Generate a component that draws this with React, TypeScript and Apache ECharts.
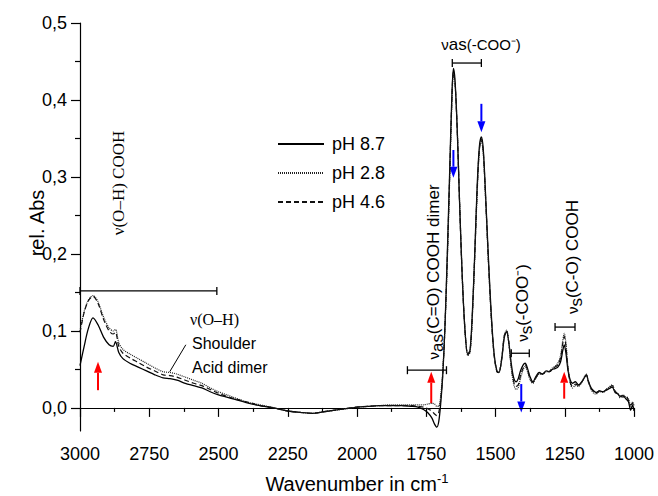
import React, { useEffect, useRef } from "react";
import * as echarts from "echarts";

const wavenumbers = [3000, 2985, 2970, 2953, 2935, 2915, 2895, 2880, 2872, 2860, 2845, 2820, 2790, 2760, 2730, 2700, 2675, 2650, 2620, 2590, 2560, 2530, 2500, 2470, 2440, 2400, 2350, 2300, 2250, 2200, 2160, 2120, 2080, 2040, 2000, 1960, 1920, 1880, 1840, 1800, 1780, 1760, 1745, 1730, 1720, 1712, 1705, 1698, 1690, 1682, 1674, 1666, 1658, 1652, 1646, 1638, 1630, 1620, 1610, 1600, 1592, 1584, 1575, 1566, 1558, 1551, 1544, 1535, 1525, 1515, 1505, 1495, 1488, 1478, 1468, 1460, 1452, 1444, 1435, 1426, 1418, 1410, 1400, 1393, 1385, 1375, 1365, 1355, 1342, 1330, 1317, 1305, 1295, 1285, 1275, 1265, 1257, 1252, 1246, 1238, 1230, 1222, 1212, 1200, 1188, 1178, 1172, 1165, 1155, 1145, 1137, 1125, 1112, 1100, 1090, 1079, 1068, 1058, 1050, 1040, 1030, 1020, 1012, 1005, 1000];

const ph87 = [0.055, 0.080, 0.103, 0.117, 0.108, 0.092, 0.082, 0.080, 0.086, 0.072, 0.064, 0.058, 0.053, 0.048, 0.043, 0.039, 0.038, 0.036, 0.032, 0.029, 0.026, 0.021, 0.017, 0.014, 0.011, 0.007, 0.003, 0.000, -0.004, -0.006, -0.007, -0.005, -0.003, -0.001, 0.001, 0.002, 0.003, 0.003, 0.003, 0.002, 0.001, -0.002, -0.006, -0.013, -0.021, -0.025, -0.018, 0.005, 0.045, 0.11, 0.2, 0.30, 0.40, 0.441, 0.425, 0.36, 0.27, 0.17, 0.10, 0.07, 0.075, 0.12, 0.2, 0.29, 0.34, 0.352, 0.335, 0.27, 0.19, 0.12, 0.07, 0.048, 0.046, 0.062, 0.092, 0.099, 0.085, 0.06, 0.04, 0.034, 0.038, 0.048, 0.056, 0.058, 0.052, 0.04, 0.034, 0.04, 0.046, 0.044, 0.048, 0.047, 0.050, 0.051, 0.053, 0.060, 0.075, 0.082, 0.072, 0.048, 0.036, 0.032, 0.034, 0.030, 0.034, 0.040, 0.043, 0.035, 0.026, 0.022, 0.020, 0.022, 0.021, 0.023, 0.025, 0.027, 0.020, 0.018, 0.015, 0.016, 0.012, 0.008, -0.003, 0.004, -0.004];

const ph28 = [0.100, 0.125, 0.140, 0.146, 0.138, 0.118, 0.104, 0.100, 0.102, 0.085, 0.076, 0.070, 0.064, 0.058, 0.052, 0.047, 0.046, 0.044, 0.040, 0.036, 0.032, 0.026, 0.021, 0.017, 0.013, 0.008, 0.004, 0.000, -0.004, -0.006, -0.007, -0.005, -0.003, -0.001, 0.001, 0.002, 0.003, 0.004, 0.004, 0.004, 0.004, 0.004, 0.005, 0.006, 0.005, 0.002, 0.002, 0.015, 0.05, 0.11, 0.19, 0.29, 0.39, 0.432, 0.42, 0.36, 0.27, 0.17, 0.10, 0.068, 0.072, 0.115, 0.195, 0.28, 0.335, 0.347, 0.33, 0.265, 0.185, 0.115, 0.068, 0.047, 0.046, 0.064, 0.095, 0.101, 0.085, 0.055, 0.032, 0.024, 0.026, 0.038, 0.050, 0.054, 0.048, 0.036, 0.032, 0.038, 0.044, 0.044, 0.047, 0.048, 0.052, 0.054, 0.058, 0.068, 0.088, 0.097, 0.085, 0.052, 0.032, 0.026, 0.029, 0.028, 0.034, 0.041, 0.044, 0.034, 0.024, 0.019, 0.018, 0.021, 0.020, 0.024, 0.027, 0.030, 0.021, 0.019, 0.013, 0.017, 0.014, 0.012, 0.002, 0.008, 0.003];

const ph46 = [0.098, 0.124, 0.139, 0.145, 0.136, 0.115, 0.100, 0.096, 0.098, 0.080, 0.071, 0.065, 0.059, 0.053, 0.048, 0.043, 0.042, 0.040, 0.036, 0.032, 0.029, 0.024, 0.019, 0.015, 0.012, 0.008, 0.003, 0.000, -0.004, -0.006, -0.007, -0.005, -0.003, -0.001, 0.001, 0.002, 0.003, 0.003, 0.003, 0.003, 0.002, 0.001, -0.001, -0.004, -0.008, -0.010, -0.006, 0.01, 0.047, 0.11, 0.195, 0.295, 0.395, 0.436, 0.422, 0.36, 0.27, 0.17, 0.10, 0.069, 0.073, 0.117, 0.197, 0.285, 0.337, 0.349, 0.332, 0.267, 0.187, 0.117, 0.069, 0.047, 0.046, 0.063, 0.094, 0.100, 0.085, 0.057, 0.035, 0.028, 0.030, 0.042, 0.052, 0.056, 0.050, 0.038, 0.033, 0.039, 0.045, 0.044, 0.047, 0.047, 0.051, 0.053, 0.056, 0.065, 0.084, 0.093, 0.081, 0.050, 0.033, 0.028, 0.031, 0.029, 0.034, 0.040, 0.043, 0.035, 0.025, 0.021, 0.019, 0.022, 0.021, 0.024, 0.026, 0.029, 0.022, 0.018, 0.016, 0.014, 0.016, 0.010, 0.004, 0.006, 0.001];

const seriesNames = ["pH 8.7", "pH 2.8", "pH 4.6"];
const yLabelTicks = [0, 0.1, 0.2, 0.3, 0.4, 0.5];
const yMinorTicks = [0.05, 0.15, 0.25, 0.35, 0.45];

const SANS = "Liberation Sans, Arial, sans-serif";
const SERIF = "Liberation Serif, Times New Roman, serif";

export default function App() {
  const ref = useRef<HTMLDivElement>(null);
  useEffect(() => {
    if (!ref.current) return;
    const chart = echarts.init(ref.current, undefined, { renderer: "svg" });
    const mk = (arr: number[]) => wavenumbers.map((w, i) => [w, arr[i]]);
    const grid = { left: 80, right: 24, top: 23, bottom: 65 };
    chart.setOption({
      animation: false,
      backgroundColor: "#fff",
      grid,
      legend: {
        data: seriesNames,
        orient: "vertical",
        left: 277,
        top: 135,
        padding: 0,
        itemWidth: 46,
        itemHeight: 14,
        itemGap: 11,
        itemStyle: { opacity: 0 },
        textStyle: { fontSize: 18, fontFamily: SANS, color: "#000", padding: [0, 0, 0, 3] },
      },
      xAxis: {
        type: "value",
        min: 1000,
        max: 3000,
        interval: 250,
        inverse: true,
        splitLine: { show: false },
        axisLine: { lineStyle: { color: "#000", width: 1.2 } },
        axisTick: { length: 9, lineStyle: { color: "#000", width: 1.2 } },
        minorTick: { show: true, splitNumber: 2, length: 4, lineStyle: { color: "#000", width: 1.2 } },
        axisLabel: { fontSize: 18, fontFamily: SANS, color: "#000", margin: 14, formatter: (v: number) => String(v) },
      },
      yAxis: [
        {
          type: "value",
          min: -0.03,
          max: 0.5,
          splitLine: { show: false },
          axisLine: { show: true, lineStyle: { color: "#000", width: 1.2 } },
          axisTick: { show: true, length: 9, customValues: yLabelTicks, lineStyle: { color: "#000", width: 1.2 } },
          axisLabel: {
            customValues: yLabelTicks,
            fontSize: 18,
            fontFamily: SANS,
            color: "#000",
            margin: 13,
            formatter: (v: number) => v.toFixed(1).replace(".", ","),
          },
        },
        {
          type: "value",
          min: -0.03,
          max: 0.5,
          position: "left",
          splitLine: { show: false },
          axisLine: { show: false },
          axisTick: { show: true, length: 5, customValues: yMinorTicks, lineStyle: { color: "#000", width: 1.2 } },
          axisLabel: { show: false },
        },
      ],
      series: [
        { name: seriesNames[0], type: "line", data: mk(ph87), symbol: "none", smooth: 0.3, lineStyle: { color: "#000", width: 1.3, type: "solid" }, itemStyle: { color: "#000" } },
        { name: seriesNames[1], type: "line", data: mk(ph28), symbol: "none", smooth: 0.3, lineStyle: { color: "#222", width: 1.2, type: [1, 1] }, itemStyle: { color: "#222" } },
        { name: seriesNames[2], type: "line", data: mk(ph46), symbol: "none", smooth: 0.3, lineStyle: { color: "#111", width: 1.2, type: [5, 3] }, itemStyle: { color: "#111" } },
      ],
    });

    const px = (x: number, y: number) => chart.convertToPixel({ gridIndex: 0 }, [x, y]) as number[];
    const g: any[] = [];
    const black = { stroke: "#000", lineWidth: 1.3 };
    const hbar = (w1: number, w2: number, y: number) => {
      const a = px(w1, y), b = px(w2, y);
      g.push({ type: "line", shape: { x1: a[0], y1: a[1], x2: b[0], y2: b[1] }, style: black });
      g.push({ type: "line", shape: { x1: a[0], y1: a[1] - 4, x2: a[0], y2: a[1] + 4 }, style: black });
      g.push({ type: "line", shape: { x1: b[0], y1: b[1] - 4, x2: b[0], y2: b[1] + 4 }, style: black });
    };
    const arrow = (w: number, yFrom: number, yTo: number, color: string) => {
      const a = px(w, yFrom), b = px(w, yTo);
      const dir = b[1] > a[1] ? 1 : -1;
      const headLen = 11, half = 4;
      g.push({ type: "line", shape: { x1: a[0], y1: a[1], x2: b[0], y2: b[1] - dir * headLen }, style: { stroke: color, lineWidth: 2 } });
      g.push({ type: "polygon", shape: { points: [[b[0], b[1]], [b[0] - half, b[1] - dir * headLen], [b[0] + half, b[1] - dir * headLen]] }, style: { fill: color } });
    };

    hbar(3000, 2506, 0.152);
    hbar(1656, 1551, 0.448);
    hbar(1818, 1677, 0.049);
    hbar(1443, 1378, 0.071);
    hbar(1285, 1213, 0.105);

    arrow(2935, 0.023, 0.060, "#ff0000");
    arrow(1732, 0.006, 0.047, "#ff0000");
    arrow(1252, 0.012, 0.047, "#ff0000");
    arrow(1652, 0.335, 0.299, "#0000ff");
    arrow(1551, 0.395, 0.358, "#0000ff");
    arrow(1407, 0.031, -0.006, "#0000ff");

    // leader line for shoulder
    const l1 = px(2618, 0.082), l2 = px(2676, 0.047);
    g.push({ type: "line", shape: { x1: l1[0], y1: l1[1], x2: l2[0], y2: l2[1] }, style: { stroke: "#000", lineWidth: 1 } });

    const txt = (x: number, y: number, text: string, font: string, size: number, extra: any = {}) =>
      g.push({ type: "text", x, y, ...extra, style: { text, fill: "#000", font: `${size}px ${font}`, align: extra.align || "left", verticalAlign: "middle", ...(extra.style || {}) } });

    txt(190, 319, "ν(O–H)", SERIF, 16);
    txt(192, 343, "Shoulder", SANS, 16);
    txt(192, 367, "Acid dimer", SANS, 16);
    txt(118, 183, "ν(O–H) COOH", SERIF, 17, { rotation: Math.PI / 2, align: "center" });

    const rich = {
      n: { fontSize: 15, fontFamily: SANS, fill: "#000" },
      s: { fontSize: 17, fontFamily: SANS, fill: "#000", padding: [9, 0, 0, 0] },
      t: { fontSize: 17, fontFamily: SANS, fill: "#000" },
      m: { fontSize: 15, fontFamily: SANS, fill: "#000" },
    };
    const richText = (x: number, y: number, text: string, rotation = 0) =>
      g.push({ type: "text", x, y, rotation, style: { text, rich, align: "center", verticalAlign: "middle", fill: "#000" } });

    richText(481, 44, "{n|ν}{t|as}{m|(-COO⁻)}");
    richText(433, 272, "{n|ν}{s|as}{t|(C=O) COOH dimer}", Math.PI / 2);
    richText(522, 303, "{n|ν}{s|s}{t|(-COO⁻)}", Math.PI / 2);
    richText(572, 257, "{n|ν}{s|s}{t|(C-O) COOH}", Math.PI / 2);

    // axis names
    txt(37, 223, "rel. Abs", SANS, 20, { rotation: Math.PI / 2, align: "center" });
    g.push({
      type: "text",
      x: 357,
      y: 484,
      style: {
        text: "{a|Wavenumber in cm}{b|-1}",
        align: "center",
        verticalAlign: "middle",
        rich: {
          a: { fontSize: 20, fontFamily: SANS, fill: "#000" },
          b: { fontSize: 13, fontFamily: SANS, fill: "#000", padding: [0, 0, 12, 0] },
        },
      },
    });

    chart.setOption({ graphic: g });
    return () => chart.dispose();
  }, []);
  return <div ref={ref} style={{ width: 658, height: 496, position: "absolute", left: 0, top: 0 }} />;
}
